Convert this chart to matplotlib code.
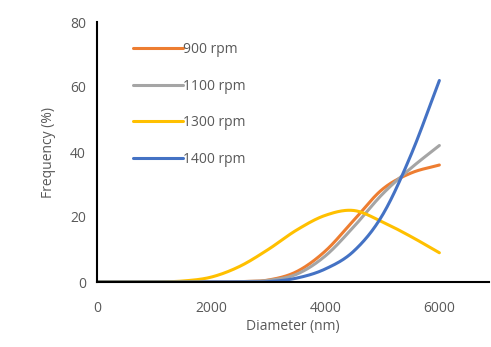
import matplotlib
matplotlib.use('Agg')
import matplotlib.pyplot as plt
import numpy as np

plt.rcParams['font.family'] = ['Open Sans', 'DejaVu Sans']

# diameters (nm) and frequency (%) for each speed
diameter = [0, 500, 1000, 1500, 2000, 2500, 3000, 3500, 4000, 4500, 5000, 5500, 6000]
rpm900 = [0, 0, 0, 0, 0, 0.1, 0.6, 3.2, 9.5, 19, 28.5, 33.5, 36]
rpm1100 = [0, 0, 0, 0, 0, 0.1, 0.5, 2.4, 8, 17, 27, 35, 42]
rpm1300 = [0, 0, 0, 0.3, 1.5, 4.8, 10, 16, 20.5, 22, 18.5, 14, 9]
rpm1400 = [0, 0, 0, 0, 0, 0, 0.1, 1.2, 4, 9.5, 20.5, 39, 62]
labels = ['900 rpm', '1100 rpm', '1300 rpm', '1400 rpm']
colors = ['#ED7D31', '#A5A5A5', '#FFC000', '#4472C4']


def smooth(x, y, n=30):
    # catmull-rom style smoothing like Excel's "smoothed line"
    x = np.asarray(x, float)
    y = np.asarray(y, float)
    px = np.concatenate([[2 * x[0] - x[1]], x, [2 * x[-1] - x[-2]]])
    py = np.concatenate([[2 * y[0] - y[1]], y, [2 * y[-1] - y[-2]]])
    xs, ys = [], []
    t = np.linspace(0, 1, n, endpoint=False)
    for i in range(1, len(px) - 2):
        for arr, out in ((px, xs), (py, ys)):
            p0, p1, p2, p3 = arr[i - 1], arr[i], arr[i + 1], arr[i + 2]
            out.extend(0.5 * (2 * p1 + (-p0 + p2) * t
                              + (2 * p0 - 5 * p1 + 4 * p2 - p3) * t ** 2
                              + (-p0 + 3 * p1 - 3 * p2 + p3) * t ** 3))
    xs.append(x[-1])
    ys.append(y[-1])
    return np.array(xs), np.array(ys)


fig = plt.figure(figsize=(4.91, 3.47), dpi=100)
ax = fig.add_axes([97 / 491, 1 - 282 / 347, 392 / 491, 260 / 347])

for series, lab, col in zip([rpm900, rpm1100, rpm1300, rpm1400], labels, colors):
    sx, sy = smooth(diameter, series)
    ax.plot(sx, sy, color=col, lw=2.2, label=lab, solid_capstyle='round')

ax.set_xlim(0, 6870)
ax.set_ylim(0, 80)
ax.set_xticks([0, 2000, 4000, 6000])
ax.set_yticks([0, 20, 40, 60, 80])
ax.tick_params(length=0, labelsize=10, labelcolor='#595959', pad=8)
ax.tick_params(axis='x', pad=14)
for s in ['top', 'right']:
    ax.spines[s].set_visible(False)
ax.spines['left'].set_linewidth(1.5)
ax.spines['bottom'].set_linewidth(1.5)

ax.set_xlabel('Diameter (nm)', fontsize=10, color='#595959', labelpad=2)
ax.set_ylabel('Frequency (%)', fontsize=10, color='#595959', labelpad=10)

leg = ax.legend(loc='upper left', bbox_to_anchor=(0.06, 0.97), frameon=False,
                fontsize=10, labelspacing=1.55, handlelength=3.6, handletextpad=0.0)
for t in leg.get_texts():
    t.set_color('#595959')

fig.savefig('out.png', dpi=100)
